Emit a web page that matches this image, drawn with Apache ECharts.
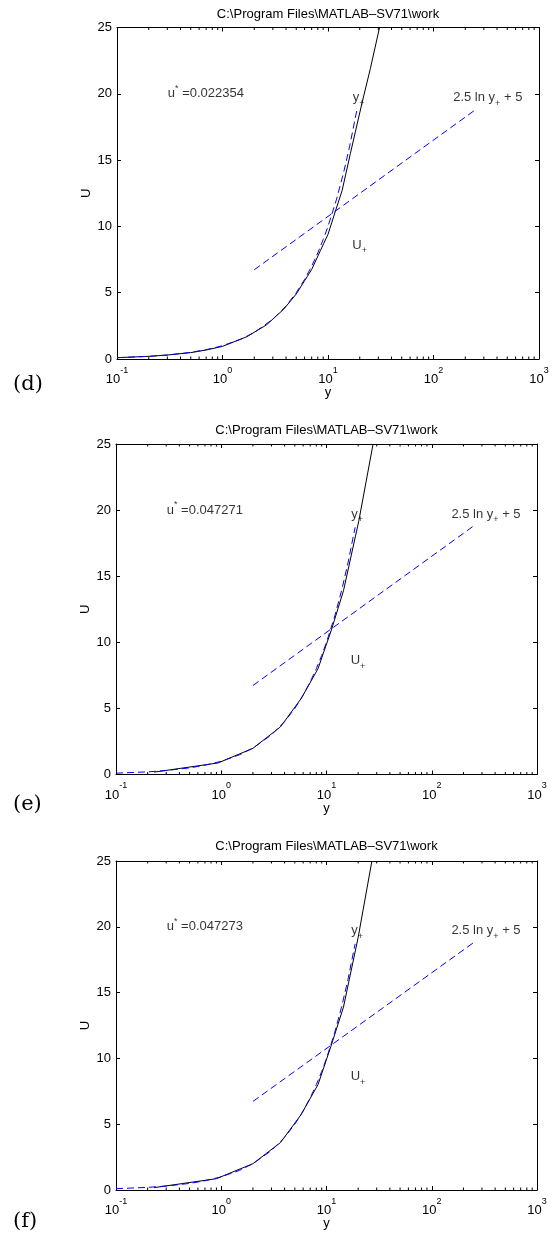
<!DOCTYPE html>
<html><head><meta charset="utf-8">
<script src="https://cdn.jsdelivr.net/npm/echarts@6/dist/echarts.min.js"></script>
<style>html,body{margin:0;padding:0;background:#fff}#c{width:558px;height:1245px}</style>
</head><body><div id="c"></div><script>
// ---------- data ----------
const titleText = 'C:\\Program Files\\MATLAB\u2013SV71\\work';
const panelLabels = ['(d)', '(e)', '(f)'];
const uStarValues = ['0.022354', '0.047271', '0.047273'];

const xTickValues = [0.1, 1, 10, 100, 1000];
const xTickExponents = ['-1', '0', '1', '2', '3'];
const xMinorTicks = [0.2,0.3,0.4,0.5,0.6,0.7,0.8,0.9, 2,3,4,5,6,7,8,9, 20,30,40,50,60,70,80,90, 200,300,400,500,600,700,800,900];
const yTickValues = [0, 5, 10, 15, 20, 25];

// measured profile (black solid) per panel
const yD = [0.1, 0.2, 0.3, 0.5, 0.7, 1.0, 1.7, 2.6, 3.8, 5.0, 6.0, 7.0, 8.5, 10, 11.7, 13.6, 16.3, 21, 25.2, 30.8];
const UD = [0.1, 0.2, 0.3, 0.48, 0.68, 0.95, 1.68, 2.56, 3.75, 4.9, 5.9, 6.75, 8.2, 9.4, 11.1, 12.7, 15.5, 19.3, 21.9, 25];
const yE = [0.23, 0.93, 2.0, 3.65, 5.75, 8.3, 11.2, 14.5, 20.3, 27.7];
const UE = [0.18, 0.87, 1.98, 3.6, 5.75, 8.0, 11.0, 13.9, 19.2, 25.0];
const yF = [0.23, 0.9, 2.0, 3.65, 5.7, 8.3, 11.0, 14.5, 20.0, 27.0];
const UF = [0.18, 0.86, 2.0, 3.6, 5.7, 8.0, 10.9, 13.9, 19.2, 25.0];

// viscous sublayer U+ = y+ (blue dashed)
const viscousY = [0.1, 0.2, 0.3, 0.5, 0.7, 1, 1.5, 2, 3, 4, 5, 6, 7, 8, 9, 10, 12, 14, 16, 18.7];
const viscousU = [0.1, 0.2, 0.3, 0.5, 0.7, 1, 1.5, 2, 3, 4, 5, 6, 7, 8, 9, 10, 12, 14, 16, 18.7];
// log law 2.5 ln y+ + 5 (blue dashed)
const logLawY = [2, 250];
const logLawU = [6.73, 18.8];

// annotation anchor points (data coords)
const uStarPos = [0.3, 20];
const yPlusPos = [17, 19.7];
const logLawLabelPos = [152, 19.7];
const UPlusPos = [16.8, 8.6];

// ---------- layout ----------
const FONT = '"Liberation Sans", Arial, sans-serif';
const layouts = [
  {left: 117, top: 27.5, width: 422, height: 331.5, titleTop: 7.5,   labelTop: 374},
  {left: 116, top: 444,  width: 421, height: 330.5, titleTop: 423.5, labelTop: 794},
  {left: 116, top: 861,  width: 421, height: 329,   titleTop: 839.5, labelTop: 1211}
];
const profiles = [[yD, UD], [yE, UE], [yF, UF]];

const zip = (a, b) => a.map((v, i) => [v, b[i]]);

const richText = {
  n:   {fontSize: 13, fontFamily: FONT, color: '#000', lineHeight: 20},
  sup: {fontSize: 9,  fontFamily: FONT, color: '#000', lineHeight: 12, verticalAlign: 'top'},
  sub: {fontSize: 9,  fontFamily: FONT, color: '#000', lineHeight: 8,  verticalAlign: 'bottom'}
};

const option = {
  animation: false,
  backgroundColor: '#fff',
  textStyle: {fontFamily: FONT},
  title: [], grid: [], xAxis: [], yAxis: [], series: [], graphic: []
};

layouts.forEach((L, i) => {
  option.grid.push({left: L.left, top: L.top, width: L.width, height: L.height, containLabel: false});
  option.title.push({
    text: titleText, left: L.left + L.width / 2, top: L.titleTop, textAlign: 'center', padding: 0,
    textStyle: {fontSize: 13, fontWeight: 'normal', color: '#000', fontFamily: FONT}
  });
  const axisLine = {show: true, onZero: false, lineStyle: {color: '#000', width: 1}};
  // bottom x
  option.xAxis.push({
    type: 'log', logBase: 10, gridIndex: i, min: 0.1, max: 1000, position: 'bottom',
    axisLine, splitLine: {show: false},
    axisTick: {show: true, inside: true, length: 4, lineStyle: {color: '#000'}},
    axisLabel: {
      margin: 7, color: '#000',
      formatter: v => {
        const k = xTickValues.findIndex(t => Math.abs(Math.log10(t) - Math.log10(v)) < 1e-6);
        return k < 0 ? '' : '{b|10}{s|' + xTickExponents[k] + '}';
      },
      rich: {
        b: {fontSize: 13, fontFamily: FONT, color: '#000', lineHeight: 20, verticalAlign: 'bottom'},
        s: {fontSize: 9, fontFamily: FONT, color: '#000', lineHeight: 8, verticalAlign: 'top'}
      }
    },
    name: 'y', nameLocation: 'middle', nameGap: 27, nameMoveOverlap: false,
    nameTextStyle: {fontSize: 13, color: '#000', fontFamily: FONT}
  });
  // top x (box)
  option.xAxis.push({
    type: 'log', logBase: 10, gridIndex: i, min: 0.1, max: 1000, position: 'top',
    axisLine, splitLine: {show: false}, axisLabel: {show: false},
    axisTick: {show: true, inside: true, length: 4, lineStyle: {color: '#000'}}
  });
  // left y
  option.yAxis.push({
    type: 'value', gridIndex: i, min: 0, max: 25, interval: 5, position: 'left',
    axisLine, splitLine: {show: false},
    axisTick: {show: true, inside: true, length: 4, lineStyle: {color: '#000'}},
    axisLabel: {margin: 5, fontSize: 13, color: '#000', fontFamily: FONT,
      formatter: v => yTickValues.includes(v) ? String(v) : ''},
    name: 'U', nameLocation: 'middle', nameGap: 24, nameRotate: 90, nameMoveOverlap: false,
    nameTextStyle: {fontSize: 13, color: '#000', fontFamily: FONT}
  });
  // right y (box)
  option.yAxis.push({
    type: 'value', gridIndex: i, min: 0, max: 25, interval: 5, position: 'right',
    axisLine, splitLine: {show: false}, axisLabel: {show: false},
    axisTick: {show: true, inside: true, length: 4, lineStyle: {color: '#000'}}
  });

  const xi = 2 * i, yi = 2 * i;
  // minor log ticks (bottom and top)
  option.series.push({
    type: 'custom', xAxisIndex: xi, yAxisIndex: yi, silent: true, clip: false,
    data: xMinorTicks.map(v => [v, 0]),
    renderItem: (params, api) => {
      const v = api.value(0);
      const b = api.coord([v, 0]);
      const t = api.coord([v, 25]);
      const st = {stroke: '#000', lineWidth: 1};
      return {type: 'group', children: [
        {type: 'line', shape: {x1: b[0], y1: b[1], x2: b[0], y2: b[1] - 2.5}, style: st},
        {type: 'line', shape: {x1: t[0], y1: t[1], x2: t[0], y2: t[1] + 2.5}, style: st}
      ]};
    }
  });
  // black measured profile
  const [py, pU] = profiles[i];
  option.series.push({
    type: 'line', xAxisIndex: xi, yAxisIndex: yi, data: zip(py, pU),
    showSymbol: false, symbol: 'none', silent: true,
    lineStyle: {color: '#000', width: 1}
  });
  // blue dashed viscous line
  option.series.push({
    type: 'line', xAxisIndex: xi, yAxisIndex: yi, data: zip(viscousY, viscousU),
    showSymbol: false, symbol: 'none', silent: true,
    lineStyle: {color: '#0000ff', width: 1, type: [7, 4]}
  });
  // blue dashed log law
  option.series.push({
    type: 'line', xAxisIndex: xi, yAxisIndex: yi, data: zip(logLawY, logLawU),
    showSymbol: false, symbol: 'none', silent: true,
    lineStyle: {color: '#0000ff', width: 1, type: [7, 4]}
  });
  // annotations
  option.series.push({
    type: 'scatter', xAxisIndex: xi, yAxisIndex: yi, symbolSize: 1, silent: true,
    itemStyle: {color: 'rgba(0,0,0,0)'},
    label: {show: true, position: 'right', distance: 0, color: '#000', rich: richText},
    labelLayout: {hideOverlap: false},
    data: [
      {value: uStarPos, label: {formatter: '{n|u}{sup|*}{n| =' + uStarValues[i] + '}'}},
      {value: yPlusPos, label: {formatter: '{n|y}{sub|+}'}},
      {value: logLawLabelPos, label: {formatter: '{n|2.5 ln y}{sub|+}{n| + 5}'}},
      {value: UPlusPos, label: {formatter: '{n|U}{sub|+}'}}
    ]
  });
  option.graphic.push({
    type: 'text', left: 13, top: L.labelTop,
    style: {text: panelLabels[i], font: '21px "DejaVu Serif", serif', fill: '#000'}
  });
});

const chart = echarts.init(document.getElementById('c'), null, {renderer: 'canvas'});
chart.setOption(option);
</script></body></html>
